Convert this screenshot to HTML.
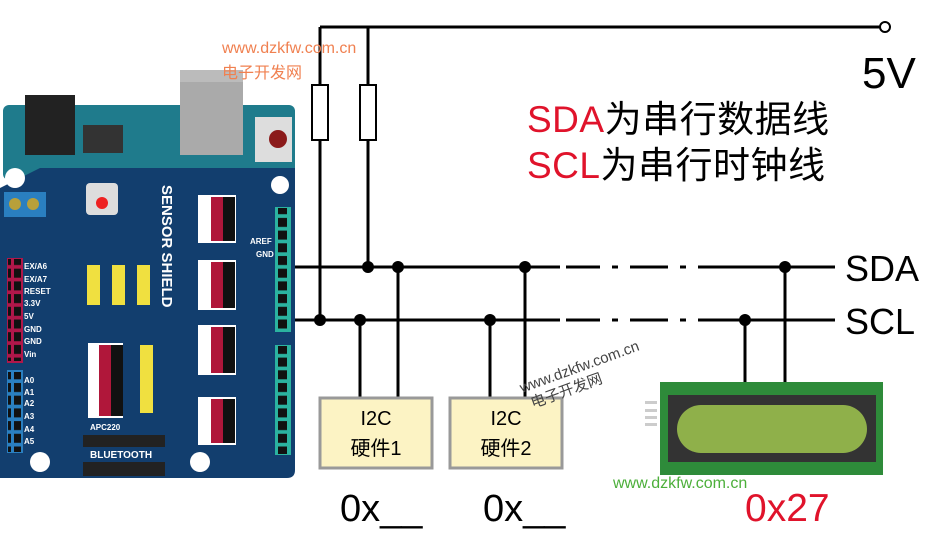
<!DOCTYPE html>
<html><head><meta charset="utf-8"><style>
body{margin:0;background:#fff;width:926px;height:538px;overflow:hidden}
svg text{font-family:"Liberation Sans","Noto Sans CJK SC",sans-serif}
</style></head><body>
<svg width="926" height="538" viewBox="0 0 926 538" xmlns="http://www.w3.org/2000/svg">
<defs>
<pattern id="pins" width="12" height="12.7" patternUnits="userSpaceOnUse"><rect x="2" y="2" width="9" height="9" fill="#111"/></pattern>
</defs>
<rect x="3" y="105" width="292" height="75" rx="6" fill="#1f7b8c"/>
<rect x="25" y="95" width="50" height="60" fill="#222"/>
<rect x="83" y="125" width="40" height="28" fill="#333"/>
<rect x="180" y="70" width="63" height="85" fill="#aaa"/>
<rect x="180" y="70" width="63" height="12" fill="#bbb"/>
<rect x="255" y="117" width="37" height="45" fill="#ddd"/>
<circle cx="278" cy="139" r="9" fill="#8b1a1a"/>
<path d="M0 188 L40 168 L295 168 L295 470 Q295 478 287 478 L0 478 Z" fill="#123e6e"/>
<circle cx="15" cy="178" r="10" fill="#fff"/>
<circle cx="280" cy="185" r="9" fill="#fff"/>
<circle cx="40" cy="462" r="10" fill="#fff"/>
<circle cx="200" cy="462" r="10" fill="#fff"/>
<rect x="4" y="192" width="42" height="25" fill="#2a7fc0"/>
<circle cx="15" cy="204" r="6" fill="#b8a03a"/><circle cx="33" cy="204" r="6" fill="#b8a03a"/>
<rect x="86" y="183" width="32" height="32" rx="4" fill="#ddd"/><circle cx="102" cy="203" r="6" fill="#e22"/>
<rect x="7" y="258" width="16" height="105" fill="#b0174a"/>
<rect x="8" y="259" width="13" height="102" fill="url(#pins)"/>
<rect x="7" y="370" width="16" height="83" fill="#2a7fc0"/>
<rect x="8" y="372" width="13" height="80" fill="url(#pins)"/>
<rect x="275" y="207" width="16" height="125" fill="#2bb3a0"/>
<rect x="277" y="208" width="13" height="122" fill="url(#pins)"/>
<rect x="275" y="345" width="16" height="110" fill="#2bb3a0"/>
<rect x="277" y="346" width="13" height="108" fill="url(#pins)"/>
<g fill="#fff" font-size="8" font-weight="bold">
<text x="24" y="269">EX/A6</text><text x="24" y="282">EX/A7</text><text x="24" y="294">RESET</text><text x="24" y="306">3.3V</text><text x="24" y="319">5V</text><text x="24" y="332">GND</text><text x="24" y="344">GND</text><text x="24" y="357">Vin</text>
<text x="24" y="383">A0</text><text x="24" y="395">A1</text><text x="24" y="406">A2</text><text x="24" y="419">A3</text><text x="24" y="432">A4</text><text x="24" y="444">A5</text>
<text x="250" y="244">AREF</text><text x="256" y="257">GND</text>
<text x="90" y="430">APC220</text><text x="90" y="458" font-size="10">BLUETOOTH</text>
</g>
<text transform="translate(162,185) rotate(90)" fill="#fff" font-size="15" font-weight="bold">SENSOR SHIELD</text>
<g fill="#222"><rect x="83" y="435" width="82" height="12"/><rect x="83" y="462" width="82" height="14"/></g>
<g>
<rect x="198" y="195" width="38" height="48" fill="#fff"/><rect x="198" y="260" width="38" height="50" fill="#fff"/>
<rect x="198" y="325" width="38" height="50" fill="#fff"/><rect x="198" y="397" width="38" height="48" fill="#fff"/>
<rect x="88" y="343" width="35" height="75" fill="#fff"/>
<rect x="211" y="197" width="12" height="44" fill="#b0173a"/><rect x="211" y="262" width="12" height="46" fill="#b0173a"/>
<rect x="211" y="327" width="12" height="46" fill="#b0173a"/><rect x="211" y="399" width="12" height="44" fill="#b0173a"/>
<rect x="99" y="345" width="12" height="71" fill="#b0173a"/>
<rect x="223" y="197" width="12" height="44" fill="#111"/><rect x="223" y="262" width="12" height="46" fill="#111"/>
<rect x="223" y="327" width="12" height="46" fill="#111"/><rect x="223" y="399" width="12" height="44" fill="#111"/>
<rect x="111" y="345" width="12" height="71" fill="#111"/>
<rect x="87" y="265" width="13" height="40" fill="#f0e040"/><rect x="112" y="265" width="13" height="40" fill="#f0e040"/>
<rect x="137" y="265" width="13" height="40" fill="#f0e040"/><rect x="140" y="345" width="13" height="68" fill="#f0e040"/>
</g>
<g stroke="#000" stroke-width="3" fill="none">
<path d="M320 27 H885 M320 27 V320 M368 27 V267"/>
<path d="M295 267 H560 M295 320 H560"/>
<path d="M566 267 H600 M612 267 H618 M630 267 H668 M680 267 H686 M698 267 H835"/>
<path d="M566 320 H600 M612 320 H618 M630 320 H668 M680 320 H686 M698 320 H835"/>
<path d="M360 320 V398 M398 267 V398 M490 320 V398 M525 267 V398 M745 320 V385 M785 267 V385"/>
</g>
<circle cx="885" cy="27" r="5" fill="#fff" stroke="#000" stroke-width="2"/>
<rect x="312" y="85" width="16" height="55" fill="#fff" stroke="#000" stroke-width="2"/>
<rect x="360" y="85" width="16" height="55" fill="#fff" stroke="#000" stroke-width="2"/>
<g fill="#000"><circle cx="368" cy="267" r="6"/><circle cx="398" cy="267" r="6"/><circle cx="525" cy="267" r="6"/><circle cx="785" cy="267" r="6"/>
<circle cx="320" cy="320" r="6"/><circle cx="360" cy="320" r="6"/><circle cx="490" cy="320" r="6"/><circle cx="745" cy="320" r="6"/></g>
<rect x="320" y="398" width="112" height="70" fill="#fcf3c4" stroke="#999" stroke-width="3"/>
<rect x="450" y="398" width="112" height="70" fill="#fcf3c4" stroke="#999" stroke-width="3"/>
<g font-size="20" text-anchor="middle" fill="#000"><text x="376" y="425">I2C</text><text x="376" y="455">硬件1</text>
<text x="506" y="425">I2C</text><text x="506" y="455">硬件2</text></g>
<rect x="660" y="382" width="223" height="93" fill="#2e8b3a"/>
<rect x="668" y="395" width="208" height="67" fill="#333"/>
<rect x="677" y="405" width="190" height="48" rx="24" fill="#8fb04a"/>
<g fill="#ccc"><rect x="645" y="401" width="12" height="3"/><rect x="645" y="409" width="12" height="3"/><rect x="645" y="416" width="12" height="3"/><rect x="645" y="423" width="12" height="3"/></g>
<text x="862" y="88" font-size="44" fill="#000">5V</text>
<text x="527" y="132" font-size="37" letter-spacing="0.5" fill="#000"><tspan fill="#e0132b">SDA</tspan>为串行数据线</text>
<text x="527" y="178" font-size="37" letter-spacing="0.5" fill="#000"><tspan fill="#e0132b">SCL</tspan>为串行时钟线</text>
<text x="845" y="281" font-size="36" fill="#000">SDA</text>
<text x="845" y="334" font-size="36" fill="#000">SCL</text>
<text x="340" y="521" font-size="38" fill="#000">0x__</text>
<text x="483" y="521" font-size="38" fill="#000">0x__</text>
<text x="745" y="521" font-size="39" fill="#e0132b">0x27</text>
<text x="222" y="53" font-size="16" fill="#f08050">www.dzkfw.com.cn</text>
<text x="222" y="78" font-size="16" fill="#f08050">电子开发网</text>
<text x="613" y="488" font-size="16" fill="#4caf3a">www.dzkfw.com.cn</text>
<g transform="translate(522,393) rotate(-20)" fill="#444" font-size="15"><text x="0" y="0">www.dzkfw.com.cn</text><text x="5" y="18">电子开发网</text></g>
</svg>
</body></html>
